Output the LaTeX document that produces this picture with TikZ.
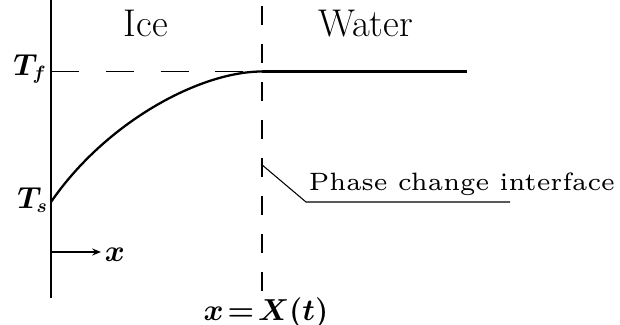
\documentclass[tikz,border=0pt]{standalone}
\usetikzlibrary{arrows.meta}
\begin{document}
\begin{tikzpicture}[x=0.02cm,y=-0.02cm,
  lbl/.style={inner sep=0pt,font=\fontsize{22}{26}\selectfont},
  plbl/.style={inner sep=0pt,font=\fontsize{6}{7}\selectfont,scale=2.38},
  mlbl/.style={inner sep=0pt,font=\fontsize{16}{19}\selectfont\boldmath},
  xlbl/.style={inner sep=0pt,font=\fontsize{18}{21}\selectfont\boldmath},
  tlbl/.style={inner sep=0pt,font=\fontsize{16}{19}\selectfont\boldmath},
  axisline/.style={line width=0.8pt},
  curveline/.style={line width=1.3pt},
  vdash/.style={line width=1.1pt,dash pattern=on 10.8pt off 10.8pt,dash phase=18.1pt},
  hdash/.style={line width=1.1pt,dash pattern=on 15.9pt off 15.3pt},
  leader/.style={line width=0.6pt}]
\useasboundingbox (0,0) rectangle (620,325);
% axes
\coordinate (atop) at (51,0);
\coordinate (abot) at (51,298);
\draw[axisline] (atop) -- (abot);
\coordinate (itop) at (262,0);
\coordinate (ibot) at (262,293);
\draw[vdash] (itop) -- (ibot);
% temperature levels
\coordinate (tf0) at (51,71.5);
\coordinate (tf1) at (262,71.5);
\coordinate (tf2) at (467,71.5);
\coordinate (ts0) at (51,202);
\draw[hdash] (tf0) -- (tf1);
\draw[curveline] (tf1) -- (tf2);
\draw[curveline] (ts0) .. controls (106,122) and (200,71.5) .. (tf1);
% labels
\node[tlbl,anchor=base west] (Tf) at (13,75) {$T_f$};
\node[tlbl,anchor=base west] (Ts) at (17,208) {$T_s$};
\node[lbl,anchor=base] (ice) at (146,36.7) {Ice};
\node[lbl,anchor=base] (water) at (365.5,36.7) {Water};
\node[plbl,anchor=base west] (pci) at (308,190) {Phase change interface};
\node[mlbl,anchor=base] (xX) at (266,320) {$x\mkern-3mu=\mkern-3mu X(t)$};
\node[xlbl,anchor=base] (xl) at (115,261) {$x$};
% x arrow
\coordinate (xa0) at (51,252);
\coordinate (xa1) at (101,252);
\draw[axisline,-{Stealth[length=5pt,width=4pt]}] (xa0) -- (xa1);
% leader
\coordinate (la) at (261,164);
\coordinate (lb) at (306,202);
\coordinate (lc) at (510,202);
\draw[leader] (la) -- (lb) -- (lc);
\end{tikzpicture}
\end{document}
